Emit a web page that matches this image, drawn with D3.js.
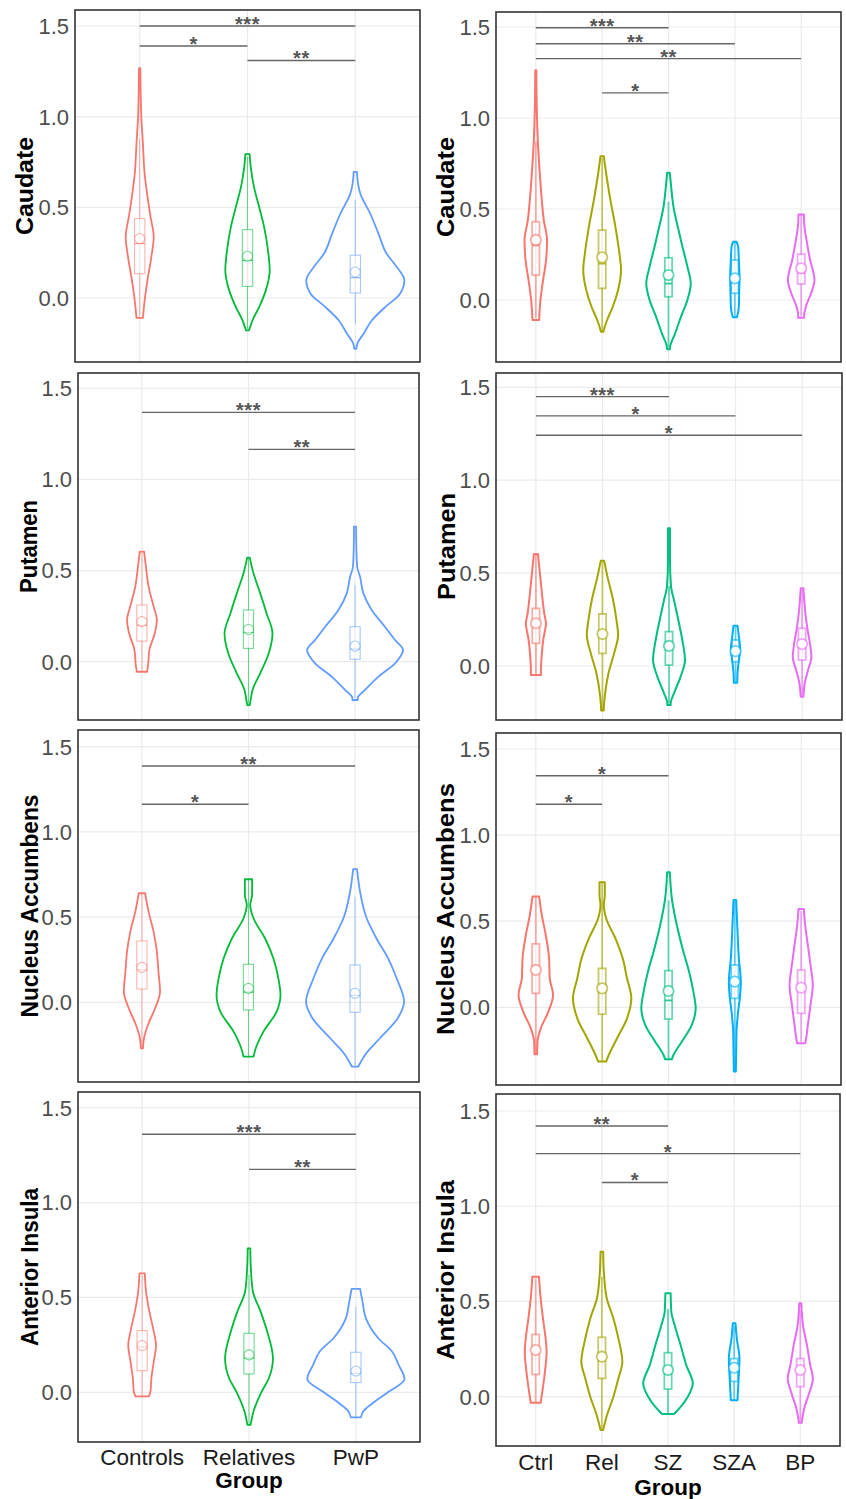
<!DOCTYPE html>
<html><head><meta charset="utf-8">
<script src="https://cdn.jsdelivr.net/npm/d3@7"></script>
<style>body{margin:0;background:#fff} svg{display:block}</style>
</head><body><svg id="c" width="846" height="1499"></svg>
<script>
// ---------------- DATA ----------------
const groups3 = ["Controls", "Relatives", "PwP"];
const groups5 = ["Ctrl", "Rel", "SZ", "SZA", "BP"];
const colors3 = ["#F8766D", "#00BA38", "#619CFF"];
const colors5 = ["#F8766D", "#A3A500", "#00BF7D", "#00B0F6", "#E76BF3"];
const regionNames = ["Caudate", "Putamen", "Nucleus Accumbens", "Anterior Insula"];
const yTickValues = [0, 0.5, 1.0, 1.5];
const yTickLabels = ["0.0", "0.5", "1.0", "1.5"];
const xTitle = "Group";

// violin outlines: [value, half-width as fraction of group spacing], bottom to top
const caudate3Violin = [
  [[-0.11,0.03],[-0.013,0.046],[0.116,0.077],[0.226,0.108],[0.337,0.13],[0.45,0.10],[0.54,0.077],[0.69,0.045],[0.85,0.03],[1.0,0.015],[1.267,0.006]],
  [[-0.178,0.012],[-0.17,0.018],[-0.123,0.046],[-0.05,0.108],[0.042,0.17],[0.153,0.206],[0.263,0.19],[0.392,0.154],[0.502,0.108],[0.613,0.06],[0.723,0.03],[0.793,0.02]],
  [[-0.28,0.01],[-0.252,0.018],[-0.197,0.077],[-0.123,0.154],[-0.05,0.277],[0.024,0.415],[0.098,0.455],[0.171,0.385],[0.245,0.29],[0.355,0.215],[0.466,0.138],[0.576,0.046],[0.631,0.025],[0.696,0.015]]
];
const caudate5Violin = [
  [[-0.11,0.05],[0,0.07],[0.11,0.11],[0.22,0.155],[0.329,0.17],[0.439,0.12],[0.549,0.09],[0.695,0.06],[0.878,0.03],[1.05,0.015],[1.262,0.008]],
  [[-0.174,0.02],[-0.165,0.025],[-0.11,0.075],[-0.037,0.16],[0.055,0.24],[0.165,0.285],[0.256,0.26],[0.402,0.2],[0.549,0.125],[0.695,0.06],[0.79,0.025]],
  [[-0.27,0.02],[-0.256,0.025],[-0.183,0.1],[-0.09,0.19],[0,0.285],[0.091,0.335],[0.183,0.285],[0.293,0.21],[0.402,0.14],[0.512,0.075],[0.622,0.04],[0.699,0.02]],
  [[-0.095,0.03],[-0.082,0.04],[-0.037,0.06],[0.037,0.065],[0.128,0.07],[0.22,0.06],[0.293,0.05],[0.32,0.025]],
  [[-0.097,0.045],[-0.082,0.045],[-0.037,0.07],[0.037,0.15],[0.11,0.2],[0.22,0.135],[0.329,0.08],[0.402,0.05],[0.47,0.04]]
];
const putamen3Violin = [
  [[-0.055,0.047],[-0.027,0.056],[0.064,0.07],[0.155,0.12],[0.229,0.14],[0.302,0.11],[0.412,0.0625],[0.521,0.0375],[0.604,0.02]],
  [[-0.238,0.012],[-0.21,0.02],[-0.155,0.0375],[-0.064,0.11],[0.046,0.19],[0.155,0.225],[0.265,0.17],[0.375,0.11],[0.485,0.047],[0.571,0.012]],
  [[-0.21,0.025],[-0.2,0.025],[-0.155,0.094],[-0.082,0.22],[-0.009,0.375],[0.064,0.45],[0.119,0.375],[0.192,0.28],[0.284,0.156],[0.375,0.078],[0.466,0.047],[0.521,0.02],[0.631,0.012],[0.741,0.01]]
];
const putamen5Violin = [
  [[-0.048,0.075],[-0.03,0.075],[0.05,0.085],[0.14,0.11],[0.23,0.15],[0.283,0.125],[0.391,0.09],[0.499,0.06],[0.603,0.03]],
  [[-0.24,0.02],[-0.237,0.02],[-0.147,0.04],[-0.04,0.09],[0.068,0.175],[0.167,0.235],[0.248,0.21],[0.355,0.16],[0.481,0.075],[0.567,0.025]],
  [[-0.21,0.025],[-0.2,0.025],[-0.147,0.075],[-0.057,0.175],[0.032,0.24],[0.14,0.2],[0.248,0.14],[0.355,0.075],[0.427,0.03],[0.571,0.015],[0.741,0.015]],
  [[-0.09,0.025],[-0.04,0.03],[0.032,0.05],[0.086,0.07],[0.158,0.05],[0.217,0.03]],
  [[-0.165,0.02],[-0.093,0.04],[-0.022,0.09],[0.05,0.14],[0.104,0.125],[0.212,0.075],[0.319,0.04],[0.418,0.02]]
];
const accumbens3Violin = [
  [[-0.27,0.01],[-0.211,0.019],[-0.133,0.056],[-0.035,0.124],[0.063,0.17],[0.18,0.155],[0.297,0.14],[0.415,0.109],[0.532,0.062],[0.64,0.03]],
  [[-0.319,0.047],[-0.27,0.068],[-0.172,0.14],[-0.055,0.264],[0.043,0.3],[0.141,0.28],[0.258,0.233],[0.376,0.155],[0.493,0.047],[0.571,0.016],[0.63,0.034],[0.722,0.034]],
  [[-0.377,0.03],[-0.358,0.047],[-0.309,0.093],[-0.211,0.233],[-0.094,0.4],[0.004,0.46],[0.141,0.39],[0.258,0.31],[0.376,0.2],[0.493,0.109],[0.649,0.047],[0.782,0.018]]
];
const accumbens5Violin = [
  [[-0.273,0.02],[-0.2,0.025],[-0.122,0.075],[-0.025,0.19],[0.072,0.26],[0.168,0.21],[0.284,0.2],[0.42,0.15],[0.536,0.09],[0.643,0.05]],
  [[-0.315,0.06],[-0.277,0.1],[-0.18,0.225],[-0.064,0.375],[0.052,0.44],[0.168,0.375],[0.284,0.31],[0.4,0.2],[0.517,0.06],[0.594,0.025],[0.65,0.04],[0.726,0.04]],
  [[-0.302,0.05],[-0.277,0.075],[-0.2,0.2],[-0.103,0.35],[-0.006,0.41],[0.091,0.375],[0.207,0.31],[0.323,0.225],[0.478,0.125],[0.633,0.05],[0.784,0.02]],
  [[-0.373,0.015],[-0.257,0.02],[-0.141,0.025],[-0.025,0.05],[0.072,0.08],[0.149,0.09],[0.284,0.06],[0.44,0.04],[0.623,0.02]],
  [[-0.209,0.06],[-0.18,0.075],[-0.103,0.1],[0.014,0.14],[0.13,0.175],[0.246,0.14],[0.362,0.1],[0.478,0.06],[0.571,0.04]]
];
const insula3Violin = [
  [[-0.021,0.062],[0.004,0.078],[0.074,0.087],[0.162,0.109],[0.249,0.13],[0.32,0.109],[0.425,0.068],[0.53,0.037],[0.627,0.025]],
  [[-0.172,0.015],[-0.105,0.04],[0.0,0.115],[0.074,0.186],[0.179,0.224],[0.32,0.17],[0.425,0.109],[0.53,0.037],[0.636,0.019],[0.759,0.012]],
  [[-0.132,0.047],[-0.1,0.07],[-0.06,0.15],[0.0,0.3],[0.07,0.455],[0.144,0.40],[0.214,0.34],[0.285,0.21],[0.39,0.094],[0.478,0.062],[0.545,0.04]]
];
const insula5Violin = [
  [[-0.032,0.075],[0.026,0.1],[0.131,0.14],[0.236,0.165],[0.306,0.15],[0.411,0.11],[0.516,0.075],[0.63,0.05]],
  [[-0.175,0.02],[-0.1,0.075],[0,0.175],[0.096,0.25],[0.184,0.31],[0.306,0.25],[0.411,0.175],[0.516,0.075],[0.656,0.03],[0.761,0.02]],
  [[-0.091,0.09],[-0.06,0.175],[0,0.3],[0.07,0.375],[0.166,0.275],[0.271,0.19],[0.376,0.1],[0.446,0.05],[0.543,0.04]],
  [[-0.018,0.05],[0.044,0.06],[0.114,0.07],[0.201,0.08],[0.306,0.04],[0.385,0.02]],
  [[-0.137,0.02],[-0.06,0.06],[0.009,0.125],[0.096,0.19],[0.166,0.15],[0.271,0.1],[0.376,0.04],[0.49,0.015]]
];

// box stats: [lower whisker, q1, median, q3, upper whisker, mean]
const caudate3Box = [[-0.10,0.134,0.30,0.438,0.88,0.328],[-0.17,0.064,0.208,0.377,0.78,0.23],[-0.14,0.028,0.112,0.236,0.54,0.143]];
const caudate5Box = [[-0.10,0.137,0.30,0.43,0.87,0.33],[-0.17,0.064,0.20,0.384,0.78,0.234],[-0.26,0.018,0.09,0.232,0.54,0.137],[-0.09,0.037,0.10,0.22,0.32,0.119],[-0.09,0.088,0.15,0.252,0.47,0.174]];
const putamen3Box = [[-0.05,0.113,0.20,0.311,0.60,0.22],[-0.23,0.073,0.16,0.284,0.57,0.177],[-0.20,0.013,0.07,0.192,0.42,0.086]];
const putamen5Box = [[-0.05,0.122,0.21,0.31,0.60,0.23],[-0.24,0.068,0.16,0.28,0.56,0.172],[-0.20,0.005,0.09,0.185,0.43,0.108],[-0.09,0.023,0.07,0.14,0.21,0.08],[-0.16,0.032,0.10,0.203,0.41,0.118]];
const accumbens3Box = [[-0.26,0.078,0.19,0.36,0.64,0.205],[-0.32,-0.045,0.06,0.223,0.72,0.082],[-0.37,-0.059,0.04,0.219,0.62,0.053]];
const accumbens5Box = [[-0.27,0.081,0.20,0.368,0.64,0.217],[-0.31,-0.04,0.09,0.226,0.72,0.11],[-0.30,-0.068,0.04,0.213,0.62,0.095],[-0.37,0.052,0.13,0.246,0.62,0.149],[-0.20,-0.035,0.10,0.217,0.56,0.114]];
const insula3Box = [[-0.02,0.114,0.24,0.325,0.62,0.246],[-0.17,0.097,0.18,0.311,0.62,0.197],[-0.13,0.051,0.10,0.211,0.45,0.112]];
const insula5Box = [[-0.03,0.117,0.23,0.327,0.62,0.245],[-0.17,0.096,0.19,0.312,0.63,0.21],[-0.09,0.04,0.12,0.231,0.46,0.14],[-0.02,0.08,0.15,0.20,0.37,0.152],[-0.13,0.053,0.12,0.20,0.45,0.14]];

// significance brackets: [group a, group b, value, label]
const caudate3Sig = [[0,2,1.5,"***"],[0,1,1.39,"*"],[1,2,1.31,"**"]];
const caudate5Sig = [[0,2,1.496,"***"],[0,3,1.408,"**"],[0,4,1.326,"**"],[1,2,1.138,"*"]];
const putamen3Sig = [[0,2,1.368,"***"],[1,2,1.165,"**"]];
const putamen5Sig = [[0,2,1.45,"***"],[0,3,1.346,"*"],[0,4,1.242,"*"]];
const accumbens3Sig = [[0,2,1.387,"**"],[0,1,1.162,"*"]];
const accumbens5Sig = [[0,2,1.345,"*"],[0,1,1.179,"*"]];
const insula3Sig = [[0,2,1.36,"***"],[1,2,1.175,"**"]];
const insula5Sig = [[0,2,1.421,"**"],[0,4,1.276,"*"],[1,2,1.125,"*"]];

// ---------------- LAYOUT ----------------
const panels = [
  {col:0,region:0,violins:caudate3Violin,boxes:caudate3Box,sig:caudate3Sig,left:75,right:420,top:10,bottom:362,y0:298,y15:26,tLen:98,tx:25},
  {col:1,region:0,violins:caudate5Violin,boxes:caudate5Box,sig:caudate5Sig,left:496,right:841,top:12,bottom:362,y0:300,y15:27,tLen:100,tx:446},
  {col:0,region:1,violins:putamen3Violin,boxes:putamen3Box,sig:putamen3Sig,left:78,right:419,top:373,bottom:720,y0:661.7,y15:388.3,tLen:93,tx:29},
  {col:1,region:1,violins:putamen5Violin,boxes:putamen5Box,sig:putamen5Sig,left:496,right:842,top:373,bottom:720,y0:666,y15:387.3,tLen:107,tx:447},
  {col:0,region:2,violins:accumbens3Violin,boxes:accumbens3Box,sig:accumbens3Sig,left:78,right:419,top:730,bottom:1082,y0:1002.3,y15:746.7,tLen:223,tx:30},
  {col:1,region:2,violins:accumbens5Violin,boxes:accumbens5Box,sig:accumbens5Sig,left:496,right:841,top:733,bottom:1085,y0:1007.3,y15:749,tLen:252,tx:446},
  {col:0,region:3,violins:insula3Violin,boxes:insula3Box,sig:insula3Sig,left:78,right:420,top:1092,bottom:1442,y0:1392.3,y15:1107.7,tLen:158,tx:30},
  {col:1,region:3,violins:insula5Violin,boxes:insula5Box,sig:insula5Sig,left:496,right:840,top:1094,bottom:1446,y0:1396.7,y15:1111,tLen:180,tx:446}
];

const svg = d3.select("#c");
const FONT = "'Liberation Sans', Arial, Helvetica, sans-serif";

panels.forEach(p => {
  const groups = p.col === 0 ? groups3 : groups5;
  const colors = p.col === 0 ? colors3 : colors5;
  const x = d3.scalePoint().domain(groups).range([p.left, p.right]).padding(0.6);
  const step = x.step();
  const y = d3.scaleLinear().domain([0, 1.5]).range([p.y0, p.y15]);
  const g = svg.append("g");

  // gridlines
  g.selectAll(".hg").data(yTickValues).join("line")
    .attr("x1", p.left).attr("x2", p.right)
    .attr("y1", d => y(d)).attr("y2", d => y(d))
    .attr("stroke", "#ebebeb").attr("stroke-width", 1.2);
  g.selectAll(".vg").data(groups).join("line")
    .attr("x1", d => x(d)).attr("x2", d => x(d))
    .attr("y1", p.top).attr("y2", p.bottom)
    .attr("stroke", "#ebebeb").attr("stroke-width", 1.2);

  // y tick labels
  g.selectAll(".yt").data(yTickValues).join("text")
    .attr("x", p.left - 6).attr("y", d => y(d)).attr("dy", "0.36em")
    .attr("text-anchor", "end").attr("font-family", FONT).attr("font-size", 22)
    .attr("fill", "#4d4d4d").text((d, i) => yTickLabels[i]);

  // y title
  const cy = (p.top + p.bottom) / 2;
  g.append("text")
    .attr("transform", `translate(${p.tx},${cy}) rotate(-90)`)
    .attr("dy", "0.36em").attr("text-anchor", "middle")
    .attr("font-family", FONT).attr("font-weight", "bold").attr("font-size", 23)
    .attr("textLength", p.tLen).attr("lengthAdjust", "spacingAndGlyphs")
    .attr("fill", "#000").text(regionNames[p.region]);

  const lw = p.col === 0 ? 1.8 : 2.0;
  // violins
  const area = d3.area()
    .y(d => y(d[0]))
    .curve(d3.curveMonotoneY);
  p.violins.forEach((prof, i) => {
    const cx = x(groups[i]);
    area.x0(d => cx - d[1] * step).x1(d => cx + d[1] * step);
    g.append("path").attr("d", area(prof))
      .attr("fill", "none").attr("stroke", colors[i]).attr("stroke-width", lw)
      .attr("stroke-linejoin", "round");
  });

  // boxplots + mean
  const bw = (p.col === 0 ? 0.048 : 0.055) * step;
  const bsw = p.col === 0 ? 1.1 : 1.8;
  const bop = p.col === 0 ? 0.55 : 0.6;
  p.boxes.forEach((b, i) => {
    const cx = x(groups[i]);
    const c = colors[i];
    const bg = g.append("g").attr("stroke", c).attr("stroke-opacity", bop).attr("stroke-width", bsw).attr("fill", "none");
    bg.append("line").attr("x1", cx).attr("x2", cx).attr("y1", y(b[3])).attr("y2", y(b[4]));
    bg.append("line").attr("x1", cx).attr("x2", cx).attr("y1", y(b[0])).attr("y2", y(b[1]));
    bg.append("rect").attr("x", cx - bw).attr("width", 2 * bw)
      .attr("y", y(b[3])).attr("height", y(b[1]) - y(b[3]));
    bg.append("line").attr("x1", cx - bw).attr("x2", cx + bw).attr("y1", y(b[2])).attr("y2", y(b[2]))
      .attr("stroke-opacity", 0.8);
    g.append("circle").attr("cx", cx).attr("cy", y(b[5]))
      .attr("r", p.col === 0 ? 5 : 5.2)
      .attr("fill", "#fff").attr("fill-opacity", p.col === 0 ? 0.6 : 0.95)
      .attr("stroke", c).attr("stroke-opacity", bop).attr("stroke-width", bsw);
  });

  // panel border
  g.append("rect").attr("x", p.left).attr("y", p.top)
    .attr("width", p.right - p.left).attr("height", p.bottom - p.top)
    .attr("fill", "none").attr("stroke", "#333").attr("stroke-width", 1.6);

  // significance brackets
  p.sig.forEach(s => {
    const xa = x(groups[s[0]]), xb = x(groups[s[1]]), yy = y(s[2]);
    g.append("line").attr("x1", xa).attr("x2", xb).attr("y1", yy).attr("y2", yy)
      .attr("stroke", "#666").attr("stroke-width", 1.4);
    g.append("text").attr("x", (xa + xb) / 2).attr("y", yy + 5)
      .attr("text-anchor", "middle").attr("font-family", FONT).attr("font-weight", "bold")
      .attr("font-size", 20).attr("letter-spacing", 0.5)
      .attr("fill", "#555").text(s[3]);
  });

  // x axis labels on the bottom row
  if (p.region === 3) {
    const base = p.col === 0 ? 1465 : 1470;
    g.selectAll(".xt").data(groups).join("text")
      .attr("x", d => x(d)).attr("y", base)
      .attr("text-anchor", "middle").attr("font-family", FONT).attr("font-size", 22.5)
      .attr("fill", "#1a1a1a").text(d => d);
    g.append("text").attr("x", (p.left + p.right) / 2).attr("y", p.col === 0 ? 1488 : 1495)
      .attr("text-anchor", "middle").attr("font-family", FONT).attr("font-weight", "bold")
      .attr("font-size", 22.5).attr("fill", "#000").text(xTitle);
  }
});
</script>
</body></html>
